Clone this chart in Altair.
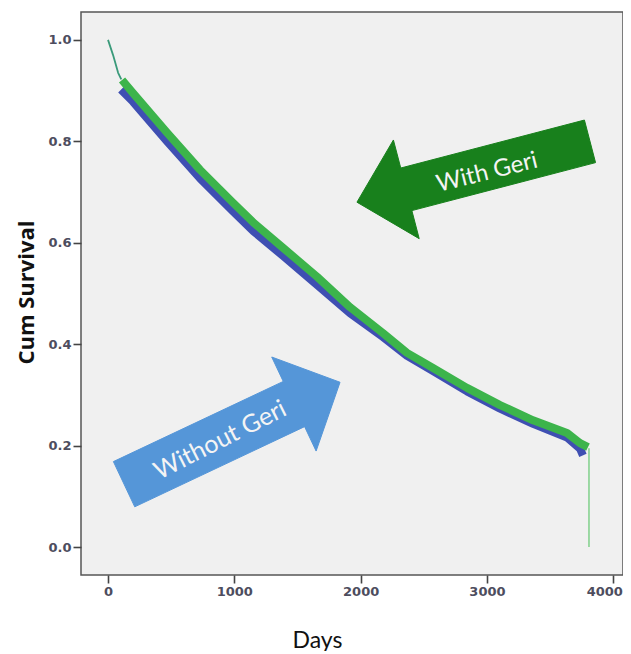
import math
import altair as alt
import pandas as pd

# ---------------- data ----------------
x_ticks = [0, 1000, 2000, 3000, 4000]
y_ticks = [0.0, 0.2, 0.4, 0.6, 0.8, 1.0]

start_days = [0, 40, 80, 105]
start_surv = [1.0, 0.970, 0.935, 0.922]

green_days = [111, 198, 467, 728, 990, 1150, 1386, 1655, 1916, 2177, 2367,
              2573, 2842, 3104, 3365, 3634, 3737, 3800]
green_surv = [0.921, 0.895, 0.817, 0.744, 0.679, 0.640, 0.590, 0.533, 0.473,
              0.422, 0.383, 0.353, 0.314, 0.280, 0.250, 0.225, 0.205, 0.197]

blue_days = [103, 198, 467, 728, 990, 1150, 1386, 1655, 1916, 2177, 2367,
             2573, 2842, 3104, 3365, 3634, 3737, 3760]
blue_surv = [0.902, 0.878, 0.800, 0.727, 0.662, 0.623, 0.574, 0.517, 0.461,
             0.414, 0.377, 0.347, 0.307, 0.273, 0.243, 0.216, 0.194, 0.181]

drop_days = [3808, 3808]
drop_surv = [0.195, 0.0]

arrow_labels = ["With Geri", "Without Geri"]
# tail / tip positions of the annotation arrows in data units
arrow_tail_days = [3816, 127]
arrow_tail_surv = [0.800, 0.124]
arrow_tip_days = [1971, 1837]
arrow_tip_surv = [0.680, 0.325]
arrow_text_days = [3001, 887]
arrow_text_surv = [0.738, 0.211]

# ---------------- layout ----------------
W, H = 542, 563
XMIN = -214
XMAX = XMIN + W / 0.1263
YMIN, YMAX = -0.055, 1.055
sx = W / (XMAX - XMIN)
sy = H / (YMAX - YMIN)

GREEN = "#3cb44b"
BLUE = "#3f4fb2"
ARROW_GREEN = "#18801c"
ARROW_BLUE = "#5596d8"

xs = alt.Scale(domain=[XMIN, XMAX], nice=False, zero=False)
ys = alt.Scale(domain=[YMIN, YMAX], nice=False, zero=False)


def arrow_polygon(tail_d, tail_v, tip_d, tip_v, shaft_half, head_half, head_len):
    tx, ty = (tail_d - XMIN) * sx, (YMAX - tail_v) * sy
    px, py = (tip_d - XMIN) * sx, (YMAX - tip_v) * sy
    L = math.hypot(px - tx, py - ty)
    ux, uy = (px - tx) / L, (py - ty) / L
    nx, ny = -uy, ux
    bx, by = px - ux * head_len, py - uy * head_len
    pts = [
        (tx + nx * shaft_half, ty + ny * shaft_half),
        (bx + nx * shaft_half, by + ny * shaft_half),
        (bx + nx * head_half, by + ny * head_half),
        (px, py),
        (bx - nx * head_half, by - ny * head_half),
        (bx - nx * shaft_half, by - ny * shaft_half),
        (tx - nx * shaft_half, ty - ny * shaft_half),
    ]
    pts.append(pts[0])
    return pd.DataFrame({
        "d": [XMIN + X / sx for X, Y in pts],
        "v": [YMAX - Y / sy for X, Y in pts],
        "o": list(range(len(pts))),
    })


def line_layer(days, surv, color, width, **kw):
    df = pd.DataFrame({"d": days, "v": surv, "o": range(len(days))})
    return alt.Chart(df).mark_line(color=color, strokeWidth=width,
                                   strokeJoin="round", **kw).encode(
        x=alt.X("d:Q", scale=xs),
        y=alt.Y("v:Q", scale=ys),
        order="o:Q",
    )


x_axis = alt.Axis(values=x_ticks, format="d", grid=False, domain=False,
                  labelFont="DejaVu Sans", labelFontWeight="bold", labelFontSize=13,
                  labelColor="#4d4d5e", labelPadding=2,
                  labelOffset={"condition": {"test": "datum.value == 4000", "value": -9},
                               "value": 0},
                  tickColor="#444444", tickWidth=1.6, tickSize=8,
                  title="Days", titleFont="Lato", titleFontSize=23,
                  titleFontWeight="normal", titleColor="#111111",
                  titleX=236, titleY=65, titleAlign="center", titleBaseline="middle")
y_axis = alt.Axis(values=y_ticks, format=".1f", grid=False, domain=False,
                  labelFont="DejaVu Sans", labelFontWeight="bold", labelFontSize=13,
                  labelColor="#4d4d5e", labelPadding=2,
                  tickColor="#444444", tickWidth=1.6, tickSize=8,
                  title="Cum Survival", titleFont="Open Sans", titleFontSize=22,
                  titleFontWeight="bold", titleColor="#111111",
                  titleX=-55, titleY=280, titleAngle=270, titleAlign="center",
                  titleBaseline="middle")

base_df = pd.DataFrame({"d": [0], "v": [1.0]})
axes_layer = alt.Chart(base_df).mark_point(opacity=0).encode(
    x=alt.X("d:Q", scale=xs, axis=x_axis),
    y=alt.Y("v:Q", scale=ys, axis=y_axis),
)

blue_line = line_layer(blue_days, blue_surv, BLUE, 8)
green_line = line_layer(green_days, green_surv, GREEN, 8)
start_line = line_layer(start_days, start_surv, "#3a9a7a", 1.8)
drop_line = line_layer(drop_days, drop_surv, "#7fd08a", 1.5)

arrow_specs = [
    (0, ARROW_GREEN, 22, 51, 51),
    (1, ARROW_BLUE, 25, 52, 51),
]
arrow_layers = []
for i, col, sh, hh, hl in arrow_specs:
    poly = arrow_polygon(arrow_tail_days[i], arrow_tail_surv[i],
                         arrow_tip_days[i], arrow_tip_surv[i], sh, hh, hl)
    arrow_layers.append(
        alt.Chart(poly).mark_line(fill=col, stroke=col, strokeWidth=1,
                                  strokeJoin="miter").encode(
            x=alt.X("d:Q", scale=xs),
            y=alt.Y("v:Q", scale=ys),
            order="o:Q",
        )
    )

text_angles = [346, 333]
text_sizes = [24, 25]
text_layers = []
for i in range(2):
    tdf = pd.DataFrame({"d": [arrow_text_days[i]], "v": [arrow_text_surv[i]],
                        "t": [arrow_labels[i]]})
    text_layers.append(
        alt.Chart(tdf).mark_text(angle=text_angles[i], font="Lato",
                                 fontSize=text_sizes[i],
                                 color="#f4f4f4", align="center",
                                 baseline="middle").encode(
            x=alt.X("d:Q", scale=xs),
            y=alt.Y("v:Q", scale=ys),
            text="t:N",
        )
    )

chart = alt.layer(
    axes_layer, blue_line, green_line, start_line, drop_line,
    *arrow_layers, *text_layers,
).properties(
    width=W, height=H,
    autosize=alt.AutoSizeParams(type="none"),
    padding={"left": 73, "top": 4, "right": 0, "bottom": 76},
    background="white",
).configure_view(
    fill="#f0f0f0", stroke="#555555", strokeWidth=1.5,
)

chart.save("out.html", embed_options={"renderer": "svg", "actions": False})
